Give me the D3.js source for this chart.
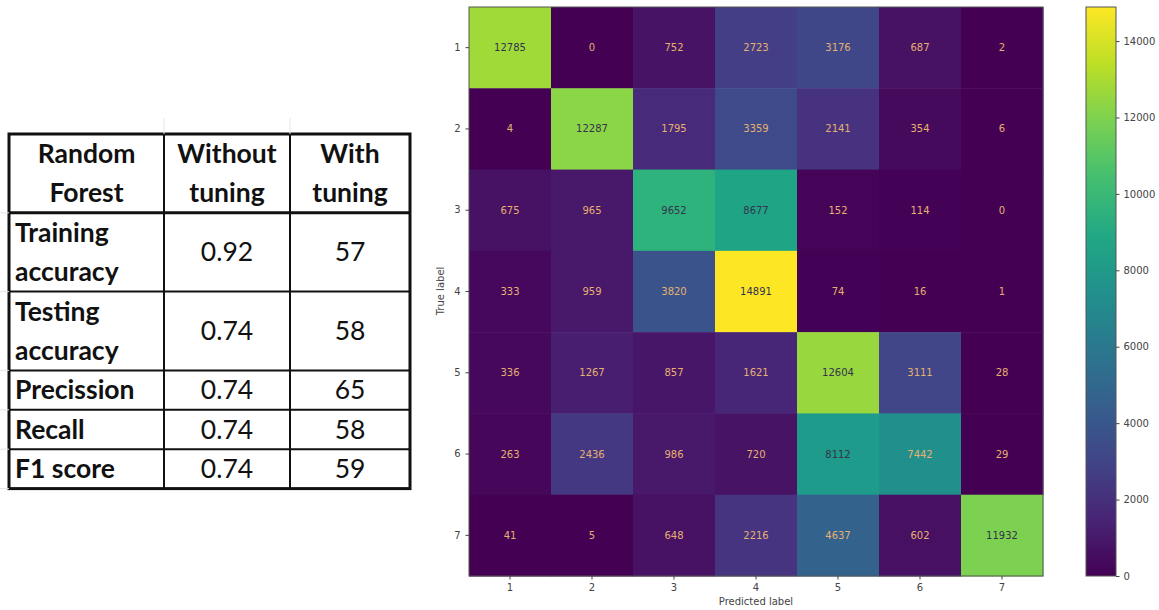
<!DOCTYPE html>
<html>
<head>
<meta charset="utf-8">
<script src="https://cdn.jsdelivr.net/npm/d3@7"></script>
<style>
  body { margin: 0; background: #fff; }
  svg { display: block; }
  .axis text { font-family: "DejaVu Sans", sans-serif; font-size: 10px; fill: #444; }
  .axis path, .axis line { stroke: #444; }
</style>
</head>
<body>
<svg width="1159" height="610"></svg>
<script>
// table data
const headers = [['Random', 'Forest'], ['Without', 'tuning'], ['With', 'tuning']];
const metrics = [['Training', 'accuracy'], ['Testing', 'accuracy'], ['Precission'], ['Recall'], ['F1 score']];
const withoutTuning = ['0.92', '0.74', '0.74', '0.74', '0.74'];
const withTuning = ['57', '58', '65', '58', '59'];

// confusion matrix data
const classLabels = ['1', '2', '3', '4', '5', '6', '7'];
const counts = [
    [12785, 0, 752, 2723, 3176, 687, 2],
    [4, 12287, 1795, 3359, 2141, 354, 6],
    [675, 965, 9652, 8677, 152, 114, 0],
    [333, 959, 3820, 14891, 74, 16, 1],
    [336, 1267, 857, 1621, 12604, 3111, 28],
    [263, 2436, 986, 720, 8112, 7442, 29],
    [41, 5, 648, 2216, 4637, 602, 11932],
];
const colorTicks = [0, 2000, 4000, 6000, 8000, 10000, 12000, 14000];

const svg = d3.select('svg');

// ---- table ----
const colX = [9, 164, 290, 410];
const lineH = 39.4;
const tableTop = 134;
const tbl = svg.append('g').attr('font-family', 'Lato, "Open Sans", sans-serif');

let rows = [{ cells: headers, lines: 2, header: true }];
metrics.forEach((m, i) => rows.push({ cells: [m, [withoutTuning[i]], [withTuning[i]]], lines: m.length }));
let yPos = tableTop;
rows.forEach(r => { r.y0 = yPos; yPos += r.lines * lineH; r.y1 = yPos; });
const tableBottom = yPos;

// faint sheet gridlines around the table
const grid = svg.append('g').attr('stroke', '#e6e6e6').attr('stroke-width', 1);
colX.slice(1, 3).forEach(x => grid.append('line').attr('x1', x).attr('x2', x).attr('y1', 118).attr('y2', tableTop));
rows.forEach(r => grid.append('line').attr('x1', 0).attr('x2', colX[0]).attr('y1', r.y1).attr('y2', r.y1));

rows.forEach(r => {
    r.cells.forEach((lines, c) => {
        const left = c === 0 && !r.header;
        const cx = left ? colX[0] + 6 : (colX[c] + colX[c + 1]) / 2;
        const mid = (r.y0 + r.y1) / 2;
        tbl.selectAll(null)
            .data(lines)
            .enter()
            .append('text')
            .attr('x', cx)
            .attr('y', (d, i) => mid + (i - (lines.length - 1) / 2) * lineH)
            .attr('dy', '0.35em')
            .attr('text-anchor', left ? 'start' : 'middle')
            .attr('font-size', 26.5)
            .attr('font-weight', (r.header || c === 0) ? 'bold' : 'normal')
            .attr('fill', '#111')
            .text(d => d);
    });
});

// inner lines
rows.slice(1).forEach(r => {
    tbl.append('line').attr('x1', colX[0]).attr('x2', colX[3]).attr('y1', r.y0).attr('y2', r.y0)
        .attr('stroke', '#111').attr('stroke-width', r === rows[1] ? 3 : 2);
});
colX.slice(1, 3).forEach(x => tbl.append('line').attr('x1', x).attr('x2', x).attr('y1', tableTop).attr('y2', tableBottom)
    .attr('stroke', '#111').attr('stroke-width', 2));
tbl.append('rect').attr('x', colX[0]).attr('y', tableTop).attr('width', colX[3] - colX[0]).attr('height', tableBottom - tableTop)
    .attr('fill', 'none').attr('stroke', '#111').attr('stroke-width', 3);

// ---- confusion matrix ----
const xScale = d3.scaleBand().domain(classLabels).range([469, 1043]);
const yScale = d3.scaleBand().domain(classLabels).range([7, 576]);
const maxVal = d3.max(counts.flat());
const color = d3.scaleSequential(d3.interpolateViridis).domain([0, maxVal]);
const thresh = maxVal / 2;

const cells = [];
counts.forEach((row, i) => row.forEach((v, j) => cells.push({ t: classLabels[i], p: classLabels[j], v })));

const hm = svg.append('g');
hm.selectAll('.cell')
    .data(cells)
    .enter()
    .append('rect')
    .classed('cell', true)
    .attr('x', d => xScale(d.p))
    .attr('y', d => yScale(d.t))
    .attr('width', xScale.bandwidth() + 0.5)
    .attr('height', yScale.bandwidth() + 0.5)
    .attr('fill', d => color(d.v));

hm.selectAll('.val')
    .data(cells)
    .enter()
    .append('text')
    .attr('x', d => xScale(d.p) + xScale.bandwidth() / 2)
    .attr('y', d => yScale(d.t) + yScale.bandwidth() / 2)
    .attr('dy', '0.35em')
    .attr('text-anchor', 'middle')
    .attr('font-family', '"DejaVu Sans", sans-serif')
    .attr('font-size', 10)
    .attr('fill', d => d.v < thresh ? '#e6b070' : '#33334d')
    .text(d => d.v);

hm.append('rect').attr('x', 469).attr('y', 7).attr('width', 1043 - 469).attr('height', 576 - 7)
    .attr('fill', 'none').attr('stroke', '#555').attr('stroke-width', 1);

svg.append('g').attr('class', 'axis')
    .attr('transform', 'translate(469,0)')
    .call(d3.axisLeft(yScale).tickSize(3.5).tickPadding(5))
    .call(g => g.select('.domain').remove());
svg.append('g').attr('class', 'axis')
    .attr('transform', 'translate(0,576)')
    .call(d3.axisBottom(xScale).tickSize(3.5).tickPadding(4))
    .call(g => g.select('.domain').remove());

svg.append('text').attr('transform', 'translate(444,291) rotate(-90)')
    .attr('text-anchor', 'middle').attr('font-family', '"DejaVu Sans", sans-serif').attr('font-size', 10)
    .attr('fill', '#444').text('True label');
svg.append('text').attr('x', 756).attr('y', 605)
    .attr('text-anchor', 'middle').attr('font-family', '"DejaVu Sans", sans-serif').attr('font-size', 10)
    .attr('fill', '#444').text('Predicted label');

// ---- colorbar ----
const cbScale = d3.scaleLinear().domain([0, maxVal]).range([576, 7]);
const grad = svg.append('defs').append('linearGradient').attr('id', 'cb')
    .attr('x1', 0).attr('y1', 1).attr('x2', 0).attr('y2', 0);
d3.range(0, 1.0001, 0.1).forEach(t => grad.append('stop').attr('offset', t).attr('stop-color', d3.interpolateViridis(t)));
svg.append('rect').attr('x', 1086).attr('y', 7).attr('width', 30).attr('height', 569)
    .attr('fill', 'url(#cb)').attr('stroke', '#555').attr('stroke-width', 1);
svg.append('g').attr('class', 'axis')
    .attr('transform', 'translate(1116,0)')
    .call(d3.axisRight(cbScale).tickValues(colorTicks).tickFormat(d3.format('d')).tickSize(3.5).tickPadding(4))
    .call(g => g.select('.domain').remove());
</script>
</body>
</html>
